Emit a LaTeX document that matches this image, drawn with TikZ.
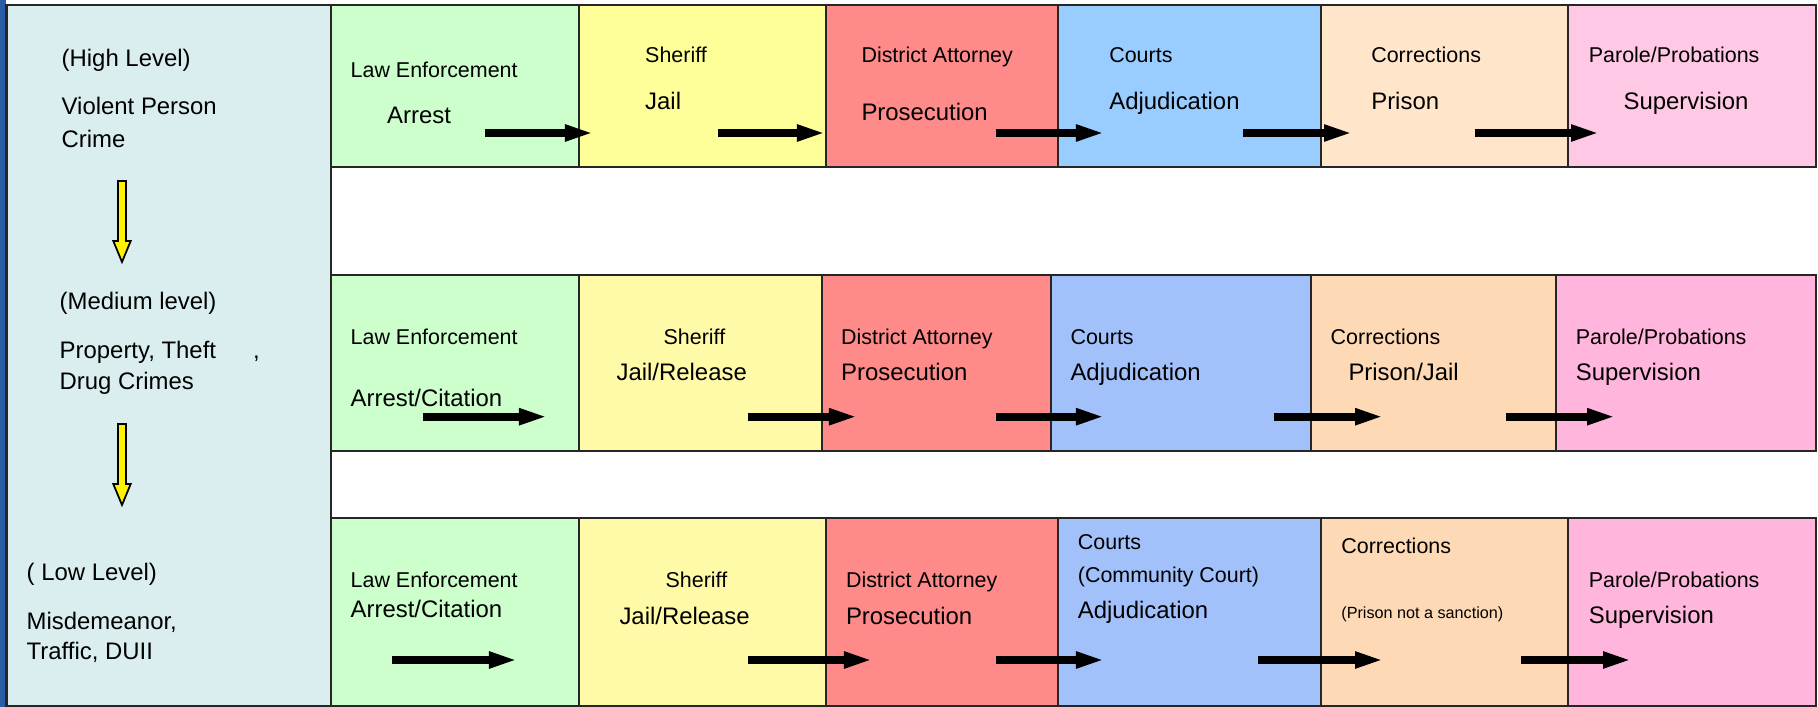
\documentclass[tikz,border=0pt]{standalone}
\usepackage{fontspec}
\setmainfont{Liberation Sans}
\usetikzlibrary{arrows.meta}

\definecolor{strip}{HTML}{2B5DA7}
\definecolor{panel}{HTML}{DAEEF0}
\definecolor{lawc}{HTML}{CCFFCC}
\definecolor{sherA}{HTML}{FFFF99}
\definecolor{sherB}{HTML}{FFFAA8}
\definecolor{dac}{HTML}{FF8A8A}
\definecolor{courtA}{HTML}{99CCFF}
\definecolor{courtB}{HTML}{A2C1FA}
\definecolor{corrA}{HTML}{FFE5CA}
\definecolor{corrB}{HTML}{FED9B5}
\definecolor{paroA}{HTML}{FFC8E4}
\definecolor{paroB}{HTML}{FFB5DC}

\begin{document}
\begin{tikzpicture}[x=0.01cm,y=-0.01cm,
  box/.style={draw=black!85,line width=0.6pt},
  hd/.style={anchor=base west,inner sep=0pt,font=\fontsize{6.1}{7}\selectfont},
  big/.style={anchor=base west,inner sep=0pt,font=\fontsize{6.8}{8}\selectfont},
  tiny/.style={anchor=base west,inner sep=0pt,font=\fontsize{4.6}{5}\selectfont},
  flow/.style={draw=black,line width=0.08cm,-{Triangle[length=0.29cm,width=0.15cm]}},
  down/.style={draw=black,fill=yellow,line width=0.5pt,line join=miter}]
\useasboundingbox (0,0) rectangle (1818,707);

\fill[strip] (0,0) rectangle (6,707);
\draw[box,fill=panel] (6.5,5) rectangle (331,706);

\draw[box,fill=lawc] (331,5) rectangle (579,167);
\draw[box,fill=sherA] (579,5) rectangle (826,167);
\draw[box,fill=dac] (826,5) rectangle (1058,167);
\draw[box,fill=courtA] (1058,5) rectangle (1321,167);
\draw[box,fill=corrA] (1321,5) rectangle (1568,167);
\draw[box,fill=paroA] (1568,5) rectangle (1816,167);

\draw[box,fill=lawc] (331,275) rectangle (579,451);
\draw[box,fill=sherB] (579,275) rectangle (822,451);
\draw[box,fill=dac] (822,275) rectangle (1051,451);
\draw[box,fill=courtB] (1051,275) rectangle (1311,451);
\draw[box,fill=corrB] (1311,275) rectangle (1556,451);
\draw[box,fill=paroB] (1556,275) rectangle (1816,451);

\draw[box,fill=lawc] (331,518) rectangle (579,706);
\draw[box,fill=sherB] (579,518) rectangle (826,706);
\draw[box,fill=dac] (826,518) rectangle (1058,706);
\draw[box,fill=courtB] (1058,518) rectangle (1321,706);
\draw[box,fill=corrB] (1321,518) rectangle (1568,706);
\draw[box,fill=paroB] (1568,518) rectangle (1816,706);

\node[big] (hi0) at (61,66.7) {(High Level)};
\node[big] (hi1) at (61,115) {Violent Person};
\node[big] (hi2) at (61,147.7) {Crime};
\node[big] (md0) at (59,310) {(Medium level)};
\node[big] (md1) at (59,358.3) {Property, Theft\hspace{0.37cm},};
\node[big] (md2) at (59,389.3) {Drug Crimes};
\node[big] (lo0) at (26,580.7) {( Low Level)};
\node[big] (lo1) at (26,629.3) {Misdemeanor,};
\node[big] (lo2) at (26,660) {Traffic, DUII};

\draw[down] (118,181) coordinate (hiarr) -- ++(8,0) -- ++(0,60) -- ++(4.7,0) -- ++(-8.7,21) -- ++(-8.7,-21) -- ++(4.7,0) -- cycle;
\draw[down] (118,424) coordinate (mdarr) -- ++(8,0) -- ++(0,60) -- ++(4.7,0) -- ++(-8.7,21) -- ++(-8.7,-21) -- ++(4.7,0) -- cycle;

\node[hd] (law1) at (350,77.3) {Law Enforcement};
\node[big] (law1b) at (386.5,123.3) {Arrest};
\node[hd] (sh1) at (644.5,62.7) {Sheriff};
\node[big] (sh1b) at (644.5,110) {Jail};
\node[hd] (da1) at (860.8,62.7) {District Attorney};
\node[big] (da1b) at (860.8,120.7) {Prosecution};
\node[hd] (ct1) at (1108.6,62.7) {Courts};
\node[big] (ct1b) at (1108.6,110) {Adjudication};
\node[hd] (co1) at (1370.6,62.7) {Corrections};
\node[big] (co1b) at (1370.6,110) {Prison};
\node[hd] (pp1) at (1588.2,62.7) {Parole/Probations};
\node[big] (pp1b) at (1622.9,110) {Supervision};

\node[hd] (law2) at (350,345) {Law Enforcement};
\node[big] (law2b) at (350,406.7) {Arrest/Citation};
\node[hd] (sh2) at (662.9,345) {Sheriff};
\node[big] (sh2b) at (615.9,380.7) {Jail/Release};
\node[hd] (da2) at (840.4,345) {District Attorney};
\node[big] (da2b) at (840.4,380.7) {Prosecution};
\node[hd] (ct2) at (1069.8,345) {Courts};
\node[big] (ct2b) at (1069.8,380.7) {Adjudication};
\node[hd] (co2) at (1330,345) {Corrections};
\node[big] (co2b) at (1347.8,380.7) {Prison/Jail};
\node[hd] (pp2) at (1575.2,345) {Parole/Probations};
\node[big] (pp2b) at (1575.2,380.7) {Supervision};

\node[hd] (law3) at (350,587.3) {Law Enforcement};
\node[big] (law3b) at (350,617.3) {Arrest/Citation};
\node[hd] (sh3) at (664.9,587.3) {Sheriff};
\node[big] (sh3b) at (618.8,625) {Jail/Release};
\node[hd] (da3) at (845.3,587.3) {District Attorney};
\node[big] (da3b) at (845.3,625) {Prosecution};
\node[hd] (ct3) at (1077.2,550) {Courts};
\node[hd] (ct3c) at (1077.2,582.7) {(Community Court)};
\node[big] (ct3b) at (1077.2,618.3) {Adjudication};
\node[hd] (co3) at (1340.7,553.3) {Corrections};
\node[tiny] (co3b) at (1340.7,618.3) {(Prison not a sanction)};
\node[hd] (pp3) at (1588.2,587.3) {Parole/Probations};
\node[big] (pp3b) at (1588.2,624) {Supervision};

\draw[flow] (485,133) coordinate (r1a) -- ++(109,0) coordinate (r1b);
\draw[flow] (718,133) coordinate (r1c) -- ++(108,0) coordinate (r1d);
\draw[flow] (996,133) coordinate (r1e) -- ++(109,0) coordinate (r1f);
\draw[flow] (1243,133) coordinate (r1g) -- ++(110,0) coordinate (r1h);
\draw[flow] (1475,133) coordinate (r1i) -- ++(125,0) coordinate (r1j);

\draw[flow] (423,416.7) coordinate (r2a) -- ++(125,0) coordinate (r2b);
\draw[flow] (748,416.7) coordinate (r2c) -- ++(110,0) coordinate (r2d);
\draw[flow] (996,416.7) coordinate (r2e) -- ++(109,0) coordinate (r2f);
\draw[flow] (1274,416.7) coordinate (r2g) -- ++(110,0) coordinate (r2h);
\draw[flow] (1506,416.7) coordinate (r2i) -- ++(110,0) coordinate (r2j);

\draw[flow] (392,660) coordinate (r3a) -- ++(126,0) coordinate (r3b);
\draw[flow] (748,660) coordinate (r3c) -- ++(125,0) coordinate (r3d);
\draw[flow] (996,660) coordinate (r3e) -- ++(109,0) coordinate (r3f);
\draw[flow] (1258,660) coordinate (r3g) -- ++(126,0) coordinate (r3h);
\draw[flow] (1521,660) coordinate (r3i) -- ++(111,0) coordinate (r3j);
\end{tikzpicture}
\end{document}
